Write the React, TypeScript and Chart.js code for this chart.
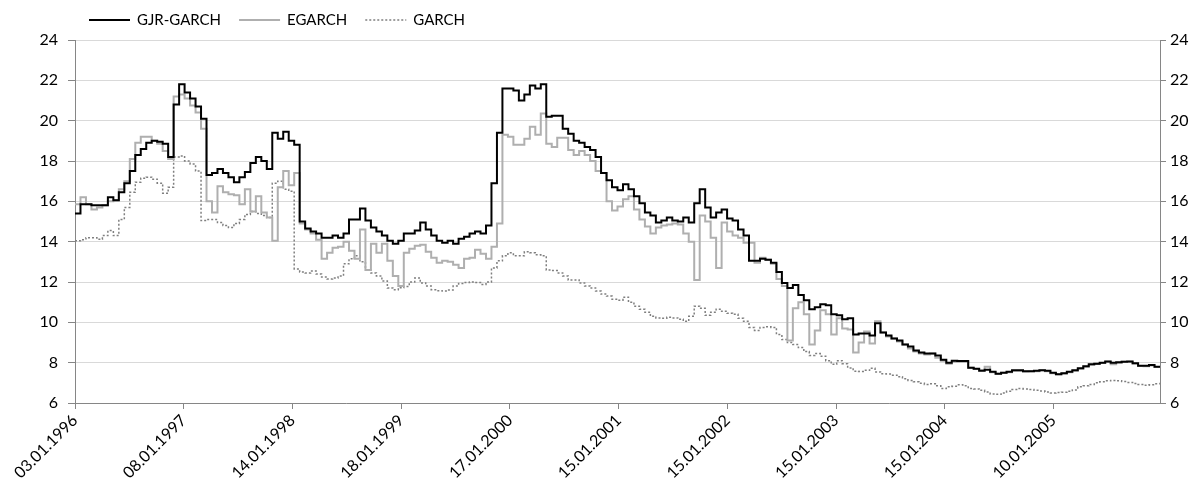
import React, { useEffect, useRef } from 'react';
import { Chart, registerables } from 'chart.js';

Chart.register(...registerables);

// Tick labels on the category (time) axis, one every POINTS_PER_LABEL observations
const DATE_LABELS = [
  '03.01.1996', '08.01.1997', '14.01.1998', '18.01.1999', '17.01.2000',
  '15.01.2001', '15.01.2002', '15.01.2003', '15.01.2004', '10.01.2005',
];
const POINTS_PER_LABEL = 19.84;
const LAST_INDEX = 198;

const GJR_GARCH = [
  15.4, 15.85, 15.85, 15.8, 15.8, 15.8, 16.2, 16.05, 16.45, 16.9,
  17.5, 18.3, 18.6, 18.9, 19.0, 18.95, 18.85, 18.2, 20.8, 21.8,
  21.4, 21.1, 20.7, 20.1, 17.3, 17.4, 17.6, 17.4, 17.2, 16.95,
  17.2, 17.45, 17.9, 18.2, 18.0, 17.6, 19.4, 19.1, 19.45, 19.0,
  18.8, 15.0, 14.65, 14.5, 14.4, 14.2, 14.2, 14.3, 14.2, 14.4,
  15.1, 15.1, 15.65, 15.05, 14.7, 14.5, 14.3, 14.05, 13.9, 14.05,
  14.4, 14.4, 14.55, 14.95, 14.6, 14.3, 14.05, 13.95, 14.05, 13.9,
  14.15, 14.25, 14.4, 14.5, 14.4, 14.8, 16.9, 19.4, 21.6, 21.6,
  21.5, 21.0, 21.3, 21.75, 21.6, 21.8, 20.2, 20.25, 20.25, 19.6,
  19.35, 19.0, 18.9, 18.7, 18.55, 18.2, 17.4, 17.05, 16.7, 16.55,
  16.85, 16.6, 16.25, 15.9, 15.45, 15.3, 14.95, 15.05, 15.2, 15.05,
  15.0, 15.2, 14.95, 15.9, 16.6, 15.7, 15.2, 15.45, 15.6, 15.15,
  15.05, 14.6, 14.3, 13.05, 13.05, 13.15, 13.1, 12.95, 12.5, 11.95,
  11.7, 11.85, 11.35, 11.1, 10.65, 10.75, 10.9, 10.85, 10.4, 10.35,
  10.15, 10.2, 9.4, 9.45, 9.45, 9.35, 9.95, 9.5, 9.35, 9.2,
  9.1, 8.9, 8.8, 8.6, 8.5, 8.45, 8.45, 8.35, 8.15, 8.0,
  8.1, 8.08, 8.08, 7.75, 7.7, 7.6, 7.65, 7.55, 7.45, 7.5,
  7.55, 7.62, 7.62, 7.58, 7.58, 7.6, 7.63, 7.6, 7.5, 7.43,
  7.48, 7.55, 7.62, 7.72, 7.82, 7.92, 7.95, 8.0, 8.06, 8.0,
  8.02, 8.05, 8.06, 7.97, 7.85, 7.85, 7.88, 7.8, 7.8,
];

const EGARCH = [
  15.85, 16.2, 15.85, 15.6, 15.7, 15.8, 16.0, 16.05, 16.6, 17.0,
  18.1, 18.9, 19.2, 19.2, 19.0, 18.85, 18.5, 18.1, 21.2, 21.3,
  21.1, 20.75, 20.4, 19.6, 16.0, 15.45, 16.75, 16.45, 16.35, 16.3,
  15.85, 16.6, 15.5, 16.25, 15.45, 15.2, 14.05, 16.7, 17.5, 16.8,
  17.4, 14.9, 14.6, 14.4, 14.1, 13.15, 13.45, 13.7, 13.75, 14.0,
  13.55, 13.15, 14.6, 12.6, 13.9, 13.45, 13.9, 13.05, 12.3, 11.8,
  13.45, 13.65, 13.8, 13.85, 13.5, 13.2, 12.95, 13.05, 13.0, 12.85,
  12.7, 13.15, 13.2, 13.6, 13.4, 13.15, 13.75, 14.9, 19.3, 19.2,
  18.8, 18.8, 19.1, 19.7, 19.3, 20.35, 18.85, 18.7, 19.15, 19.15,
  18.55, 18.3, 18.5, 18.3, 18.0, 17.5, 17.4, 16.0, 15.55, 15.75,
  16.1, 16.25, 15.6, 15.1, 14.75, 14.4, 14.7, 14.8, 14.85, 14.9,
  14.85, 14.4, 14.0, 12.1, 15.3, 15.0, 14.2, 12.7, 14.95, 14.5,
  14.3, 14.2, 13.95, 13.95, 12.95, 13.2, 13.1, 12.9, 12.15, 11.8,
  9.1, 10.7, 11.0, 10.4, 8.9, 9.6, 10.6, 10.4, 9.4, 10.2,
  9.7, 9.65, 8.5, 9.0, 9.55, 8.95, 10.05, 9.5, 9.3, 9.2,
  9.05, 8.9, 8.7, 8.55, 8.45, 8.4, 8.45, 8.25, 8.1, 7.95,
  8.05, 8.05, 8.05, 7.75, 7.68, 7.62, 7.8, 7.52, 7.45, 7.5,
  7.53, 7.6, 7.6, 7.56, 7.58, 7.58, 7.62, 7.58, 7.48, 7.42,
  7.46, 7.53, 7.6, 7.7, 7.8, 7.9, 7.93, 7.98, 8.05, 7.92,
  8.0, 8.04, 8.05, 7.96, 7.83, 7.82, 7.86, 7.78, 7.78,
];

const GARCH = [
  14.05, 14.1, 14.2, 14.2, 14.12, 14.3, 14.55, 14.3, 15.1, 15.7,
  16.45, 16.95, 17.15, 17.2, 17.1, 16.9, 16.4, 16.7, 18.2, 18.25,
  18.0, 17.85, 17.5, 15.05, 15.1, 15.1, 14.95, 14.8, 14.7, 14.9,
  15.1, 15.35, 15.5, 15.4, 15.3, 15.2, 16.9, 17.0, 16.6, 16.5,
  12.65, 12.5, 12.45, 12.55, 12.4, 12.25, 12.15, 12.2, 12.3, 12.9,
  13.15, 13.3, 13.0, 12.6, 12.45, 12.3, 12.05, 11.7, 11.62, 11.72,
  11.78, 12.0, 12.2, 11.95, 11.8, 11.62, 11.57, 11.55, 11.6, 11.8,
  11.92, 11.97, 12.0, 11.97, 11.88, 12.0, 12.7, 13.05, 13.3, 13.45,
  13.3, 13.3, 13.5, 13.45, 13.35, 13.3, 12.6, 12.57, 12.45, 12.3,
  12.1, 12.1, 11.95, 11.8, 11.7, 11.55, 11.4, 11.3, 11.15, 11.1,
  11.25, 11.0, 10.8, 10.65, 10.5, 10.3, 10.22, 10.2, 10.25, 10.22,
  10.15, 10.05, 10.3, 10.8, 10.7, 10.35, 10.5, 10.65, 10.55, 10.45,
  10.4, 10.2, 10.05, 9.75, 9.6, 9.75, 9.78, 9.75, 9.4, 9.15,
  9.0, 8.9, 8.75, 8.55, 8.35, 8.45, 8.32, 8.1, 7.92, 8.1,
  7.95, 7.74, 7.58, 7.56, 7.62, 7.72, 7.54, 7.45, 7.44, 7.38,
  7.3, 7.2, 7.12, 7.05, 6.98, 6.92, 6.95, 6.85, 6.72, 6.8,
  6.83, 6.9, 6.85, 6.72, 6.7, 6.63, 6.55, 6.45, 6.43, 6.5,
  6.58, 6.67, 6.72, 6.7, 6.67, 6.63, 6.6, 6.55, 6.5, 6.52,
  6.53, 6.58, 6.65, 6.8, 6.85, 6.92, 7.0, 7.05, 7.1, 7.12,
  7.1, 7.06, 7.02, 6.97, 6.92, 6.88, 6.9, 6.95, 7.1,
];

const SERIES_NAMES = ['GJR-GARCH', 'EGARCH', 'GARCH'];
const Y_MIN = 6;
const Y_MAX = 24;
const Y_STEP = 2;

const FONT_FAMILY = "'Lato', 'Open Sans', sans-serif";
const AXIS_COLOR = '#868686';
const GRID_COLOR = '#d9d9d9';

const toPoints = (arr: number[]) => arr.map((y, i) => ({ x: i, y }));

const lineLegend = {
  id: 'lineLegend',
  afterDraw(chart: any) {
    const ctx = chart.ctx as CanvasRenderingContext2D;
    ctx.save();
    ctx.font = `15px ${FONT_FAMILY}`;
    ctx.textBaseline = 'middle';
    ctx.textAlign = 'left';
    let x = 81;
    const y = 12;
    chart.data.datasets.forEach((ds: any) => {
      ctx.beginPath();
      ctx.strokeStyle = ds.borderColor;
      ctx.lineWidth = ds.borderWidth;
      ctx.setLineDash(ds.borderDash || []);
      ctx.moveTo(x, y);
      ctx.lineTo(x + 41, y);
      ctx.stroke();
      ctx.setLineDash([]);
      ctx.fillStyle = '#000';
      ctx.fillText(ds.label, x + 48, y);
      x += 48 + ctx.measureText(ds.label).width + 18;
    });
    ctx.restore();
  },
};

export default function App() {
  const canvasRef = useRef<HTMLCanvasElement | null>(null);

  useEffect(() => {
    if (!canvasRef.current) return;
    const yTicks = {
      color: '#000',
      font: { family: FONT_FAMILY, size: 16 },
      stepSize: Y_STEP,
    };
    const chart = new Chart(canvasRef.current, {
      type: 'line',
      data: {
        datasets: [
          {
            label: SERIES_NAMES[0],
            data: toPoints(GJR_GARCH),
            borderColor: '#000000',
            borderWidth: 2,
            pointRadius: 0,
            stepped: true,
            fill: false,
          },
          {
            label: SERIES_NAMES[1],
            data: toPoints(EGARCH),
            borderColor: '#afafaf',
            borderWidth: 2,
            pointRadius: 0,
            stepped: true,
            fill: false,
          },
          {
            label: SERIES_NAMES[2],
            data: toPoints(GARCH),
            borderColor: '#7f7f7f',
            borderWidth: 1.5,
            borderDash: [2, 2],
            pointRadius: 0,
            stepped: true,
            fill: false,
          },
        ],
      },
      options: {
        responsive: false,
        animation: false,
        layout: { padding: { top: 32, right: 0, bottom: 0, left: 0 } },
        plugins: {
          legend: { display: false },
          tooltip: { enabled: false },
        },
        scales: {
          x: {
            type: 'linear',
            min: 0,
            max: LAST_INDEX,
            afterBuildTicks: (scale: any) => {
              scale.ticks = DATE_LABELS.map((_, k) => ({ value: k * POINTS_PER_LABEL }));
            },
            afterFit: (scale: any) => {
              scale.height = 86;
            },
            grid: {
              drawOnChartArea: false,
              drawTicks: true,
              tickLength: 6,
              tickColor: AXIS_COLOR,
            },
            border: { color: AXIS_COLOR, width: 1 },
            ticks: {
              autoSkip: false,
              maxRotation: 45,
              minRotation: 45,
              padding: 2,
              color: '#000',
              font: { family: FONT_FAMILY, size: 16 },
              callback: (_v: any, index: number) => DATE_LABELS[index],
            },
          },
          y: {
            position: 'left',
            min: Y_MIN,
            max: Y_MAX,
            afterFit: (scale: any) => {
              scale.width = 67;
            },
            grid: {
              color: GRID_COLOR,
              lineWidth: 1,
              tickLength: 7,
              tickColor: AXIS_COLOR,
            },
            border: { color: AXIS_COLOR, width: 1 },
            ticks: { ...yTicks, padding: 10 },
          },
          y2: {
            position: 'right',
            min: Y_MIN,
            max: Y_MAX,
            afterFit: (scale: any) => {
              scale.width = 35;
            },
            grid: {
              drawOnChartArea: false,
              tickLength: 6,
              tickColor: AXIS_COLOR,
            },
            border: { color: AXIS_COLOR, width: 1 },
            ticks: { ...yTicks, padding: 4 },
          },
        },
      },
      plugins: [lineLegend],
    } as any);
    return () => chart.destroy();
  }, []);

  return (
    <div style={{ width: 1187, height: 481 }}>
      <canvas ref={canvasRef} width={1187} height={481} style={{ display: 'block' }} />
    </div>
  );
}
